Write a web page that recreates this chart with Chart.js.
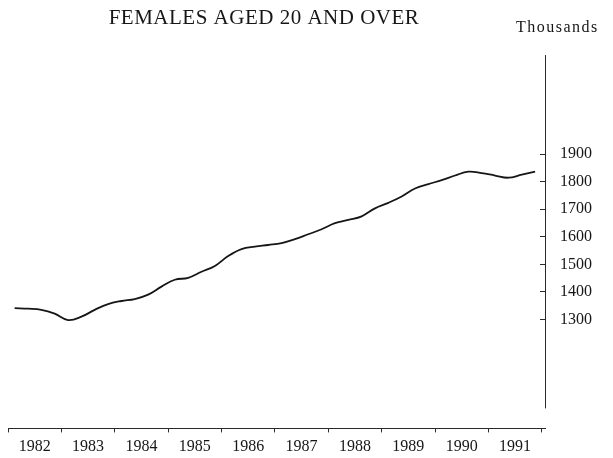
<!DOCTYPE html>
<html>
<head>
<meta charset="utf-8">
<script src="https://cdn.jsdelivr.net/npm/chart.js@4.4.1/dist/chart.umd.min.js"></script>
<style>
html,body{margin:0;padding:0;background:#fff;}
#wrap{width:613px;height:458px;}
canvas{display:block;}
</style>
</head>
<body>
<div id="wrap"><canvas id="c" width="613" height="458"></canvas></div>
<script>
// ---- data ----
const titleText = 'FEMALES AGED 20 AND OVER';
const unitText = 'Thousands';
const yearLabels = ['1982','1983','1984','1985','1986','1987','1988','1989','1990','1991'];
const yTickValues = [1300, 1400, 1500, 1600, 1700, 1800, 1900];
// quarter mid-points (decimal years)
const quarterPositions = [
  1982.125, 1982.375, 1982.625, 1982.875,
  1983.125, 1983.375, 1983.625, 1983.875,
  1984.125, 1984.375, 1984.625, 1984.875,
  1985.125, 1985.375, 1985.625, 1985.875,
  1986.125, 1986.375, 1986.625, 1986.875,
  1987.125, 1987.375, 1987.625, 1987.875,
  1988.125, 1988.375, 1988.625, 1988.875,
  1989.125, 1989.375, 1989.625, 1989.875,
  1990.125, 1990.375, 1990.625, 1990.875,
  1991.125, 1991.375, 1991.625, 1991.875
];
// females aged 20 and over, thousands
const femalesThousands = [
  1341, 1339, 1335, 1321,
  1298, 1310, 1335, 1356,
  1367, 1374, 1390, 1419,
  1444, 1451, 1473, 1494,
  1530, 1555, 1564, 1570,
  1577, 1591, 1609, 1627,
  1649, 1661, 1674, 1703,
  1723, 1746, 1775, 1791,
  1805, 1822, 1836, 1831,
  1822, 1814, 1825, 1836
];

const FONT = 'Liberation Serif';
const INK = '#161616';

const textPlugin = {
  id: 'texts',
  afterDraw(chart) {
    const ctx = chart.ctx;
    const ys = chart.scales.y;
    ctx.save();
    // vertical axis line (stops short of the x axis, as in the reference)
    ctx.strokeStyle = '#2a2a2a';
    ctx.lineWidth = 1;
    const ax = Math.round(ys.left) + 0.5;
    ctx.beginPath();
    ctx.moveTo(ax, chart.chartArea.top);
    ctx.lineTo(ax, chart.chartArea.bottom - 20);
    ctx.stroke();
    // title and unit
    ctx.fillStyle = INK;
    ctx.textBaseline = 'alphabetic';
    ctx.textAlign = 'center';
    ctx.font = '21px "' + FONT + '"';
    if ('letterSpacing' in ctx) ctx.letterSpacing = '0.5px';
    ctx.fillText(titleText, 264, 24);
    ctx.textAlign = 'left';
    ctx.font = '16px "' + FONT + '"';
    if ('letterSpacing' in ctx) ctx.letterSpacing = '1.5px';
    ctx.fillText(unitText, 516, 32);
    ctx.restore();
  }
};

const xTicks = [];
for (let i = 0; i <= yearLabels.length; i++) {
  xTicks.push(1982 + i);
  if (i < yearLabels.length) xTicks.push(1982 + i + 0.5);
}

new Chart(document.getElementById('c').getContext('2d'), {
  type: 'line',
  data: {
    datasets: [{
      data: quarterPositions.map((x, i) => ({ x: x, y: femalesThousands[i] })),
      borderColor: INK,
      borderWidth: 1.8,
      pointRadius: 0,
      tension: 0.4,
      fill: false
    }]
  },
  options: {
    responsive: false,
    animation: false,
    layout: { padding: { top: 55, left: 8, right: 0, bottom: 0 } },
    plugins: { legend: { display: false }, tooltip: { enabled: false }, title: { display: false } },
    scales: {
      x: {
        type: 'linear',
        position: 'bottom',
        min: 1982,
        max: 1992.06,
        afterBuildTicks: s => { s.ticks = xTicks.map(v => ({ value: v })); },
        afterFit: s => { s.height = 26; },
        grid: {
          drawOnChartArea: false,
          tickLength: 4,
          tickWidth: 1,
          tickColor: c => (c.tick && Number.isInteger(c.tick.value)) ? '#2a2a2a' : 'rgba(0,0,0,0)'
        },
        border: { display: true, color: '#2a2a2a', width: 1 },
        ticks: {
          autoSkip: false,
          maxRotation: 0,
          padding: 5,
          color: INK,
          font: { family: FONT, size: 16 },
          callback: v => Number.isInteger(v) ? '' : yearLabels[Math.floor(v) - 1982]
        }
      },
      y: {
        type: 'linear',
        position: 'right',
        min: 905,
        max: 2259,
        afterBuildTicks: s => { s.ticks = yTickValues.map(v => ({ value: v })); },
        afterFit: s => { s.width = 68; },
        grid: { drawOnChartArea: false, tickLength: -5, color: '#2a2a2a', tickColor: '#2a2a2a' },
        border: { display: false },
        ticks: {
          padding: 20,
          color: INK,
          font: { family: FONT, size: 16 },
          callback: v => String(v)
        }
      }
    }
  },
  plugins: [textPlugin]
});
</script>
</body>
</html>
